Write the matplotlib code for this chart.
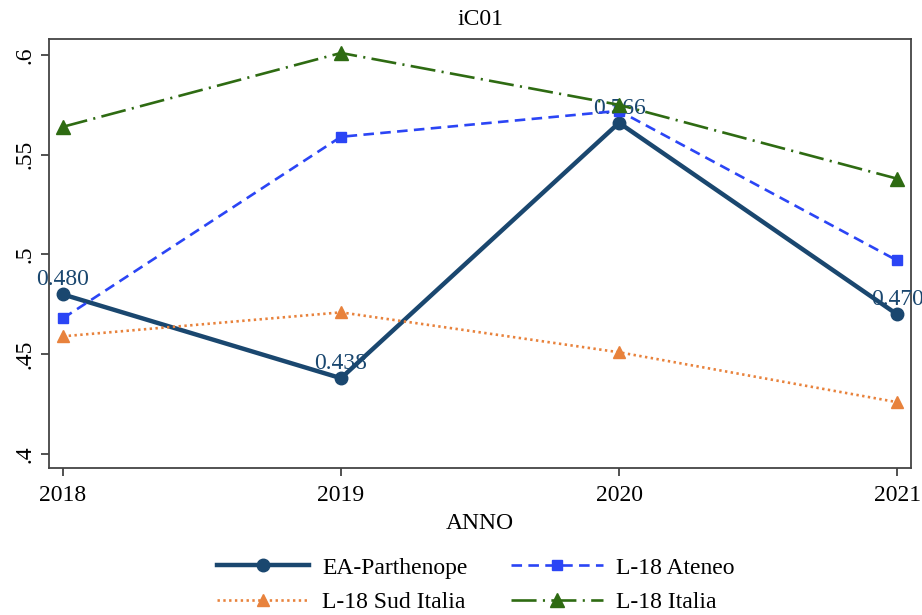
import matplotlib
matplotlib.use("Agg")
import matplotlib.pyplot as plt

years = [2018, 2019, 2020, 2021]
ea_parthenope = [0.480, 0.438, 0.566, 0.470]
l18_ateneo = [0.468, 0.559, 0.572, 0.497]
l18_sud_italia = [0.459, 0.471, 0.451, 0.426]
l18_italia = [0.564, 0.601, 0.575, 0.538]
ea_labels = ["0.480", "0.438", "0.566", "0.470"]
yticks = [0.4, 0.45, 0.5, 0.55, 0.6]
ytick_labels = [".4", ".45", ".5", ".55", ".6"]

plt.rcParams['font.family'] = ['Liberation Serif', 'DejaVu Serif']

fig = plt.figure(figsize=(9.22, 6.15), dpi=100)
ax = fig.add_axes([49/922, 1-468/615, (911-49)/922, (468-39)/615])

navy = '#1a476f'
blue = '#2b45f5'
orange = '#e8823c'
green = '#2e6b12'

h1, = ax.plot(years, ea_parthenope, color=navy, lw=3.2, marker='o', ms=9,
              label='EA-Parthenope', zorder=3)
for x, y, t in zip(years, ea_parthenope, ea_labels):
    ax.annotate(t, (x, y), xytext=(0, 3), textcoords='offset points',
                ha='center', va='bottom', color=navy, fontsize=17, zorder=3)
h2, = ax.plot(years, l18_ateneo, color=blue, lw=1.9, marker='s', ms=7,
              dashes=(4.0, 2.4), label='L-18 Ateneo', zorder=4)
h3, = ax.plot(years, l18_sud_italia, color=orange, lw=1.9, marker='^', ms=8,
              dashes=(0.9, 1.3), label='L-18 Sud Italia', zorder=5)
h4, = ax.plot(years, l18_italia, color=green, lw=1.9, marker='^', ms=10,
              dashes=(9.5, 2.4, 0.8, 2.4), label='L-18 Italia', zorder=6)

ax.set_xlim(2017.95, 2021.05)
ax.set_ylim(0.393, 0.608)
ax.set_xticks(years)
ax.set_xticklabels([str(y) for y in years], fontsize=17)
ax.set_yticks(yticks)
ax.set_yticklabels(ytick_labels, fontsize=17, rotation=90, va='center')
ax.tick_params(axis='x', pad=6)
ax.tick_params(axis='y', pad=4)
ax.tick_params(direction='out', length=6, width=1.2, colors='#333333', labelcolor='black')
for s in ax.spines.values():
    s.set_color('#444444')
    s.set_linewidth(1.3)

ax.set_xlabel('ANNO', fontsize=17, labelpad=5)
ax.set_title('iC01', fontsize=17, pad=10)

fig.legend(handles=[h1, h3, h2, h4], loc='center', ncol=2,
           bbox_to_anchor=(476/922, 1-585/615), frameon=False, fontsize=17,
           handlelength=3.9, columnspacing=1.85, labelspacing=0.55, handletextpad=0.55)

fig.savefig('out.png', dpi=100)
